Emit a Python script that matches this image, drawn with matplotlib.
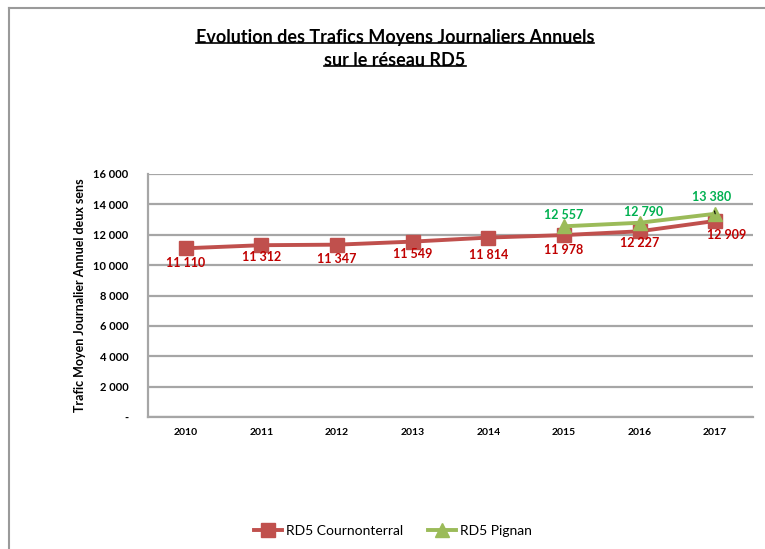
import matplotlib
matplotlib.use("Agg")
import matplotlib.pyplot as plt
from matplotlib.lines import Line2D

plt.rcParams['font.family'] = ['Lato', 'DejaVu Sans']

years = ['2010', '2011', '2012', '2013', '2014', '2015', '2016', '2017']
cournonterral = [11110, 11312, 11347, 11549, 11814, 11978, 12227, 12909]
pignan_years = ['2015', '2016', '2017']
pignan = [12557, 12790, 13380]

yticks = [0, 2000, 4000, 6000, 8000, 10000, 12000, 14000, 16000]
ytick_labels = ['-', '2 000', '4 000', '6 000', '8 000', '10 000', '12 000', '14 000', '16 000']

red = '#C0504D'
green = '#9BBB59'
red_txt = '#C00000'
green_txt = '#00B050'
grid_c = '#A6A6A6'

fig = plt.figure(figsize=(7.65, 5.49), dpi=100)
fig.patch.set_facecolor('white')
fig.patch.set_linewidth(0)

# outer frame of the chart area (top and left edges)
fx, fy = 8.5 / 765, 1 - 7.5 / 549
fig.add_artist(Line2D([fx, 1.0], [fy, fy], transform=fig.transFigure,
                      color='#9A9A9A', linewidth=1.5))
fig.add_artist(Line2D([fx, fx], [0.0, fy], transform=fig.transFigure,
                      color='#9A9A9A', linewidth=1.5))

ax = fig.add_axes([148 / 765, 1 - 417 / 549, (753 - 148) / 765, (417 - 174) / 549])

x_all = list(range(len(years)))
x_pig = [years.index(y) for y in pignan_years]

ax.plot(x_all, cournonterral, color=red, linewidth=2.8, marker='s', markersize=9.5,
        markeredgecolor=red, zorder=3, label='RD5 Cournonterral')
ax.plot(x_pig, pignan, color=green, linewidth=2.8, marker='^', markersize=9.5,
        markeredgecolor=green, zorder=4, label='RD5 Pignan')

ax.set_xlim(-0.5, len(years) - 0.5)
ax.set_ylim(0, 16000)
ax.set_xticks(x_all)
ax.set_xticklabels(years, fontsize=7.5, fontweight='bold')
ax.set_yticks(yticks)
ax.set_yticklabels(ytick_labels, fontsize=8, fontweight='bold')
ax.tick_params(axis='y', length=0, pad=14)
ax.tick_params(axis='x', length=0, pad=8)
ax.yaxis.grid(True, color=grid_c, linewidth=1.6)
ax.set_axisbelow(True)
for s in ['top', 'right']:
    ax.spines[s].set_visible(False)
for s in ['left', 'bottom']:
    ax.spines[s].set_color(grid_c)
    ax.spines[s].set_linewidth(1.6)

ax.set_ylabel('Trafic Moyen Journalier Annuel deux sens', fontsize=9,
              fontweight='bold', labelpad=5)


def fmt(v):
    return f'{v:,}'.replace(',', ' ')


red_offsets = [(0, -15), (0, -12), (0, -14), (0, -12), (0, -17), (0, -15), (0, -12), (11, -14)]
for xi, v, off in zip(x_all, cournonterral, red_offsets):
    ax.annotate(fmt(v), (xi, v), xytext=off, textcoords='offset pixels',
                ha='center', va='center', fontsize=9, fontweight='bold',
                color=red_txt, zorder=6)

green_offsets = [(0, 11), (4, 11), (-4, 17)]
for xi, v, off in zip(x_pig, pignan, green_offsets):
    arrow = None
    if off[1] > 15:
        arrow = dict(arrowstyle='-', color='black', linewidth=0.8, shrinkA=4, shrinkB=3)
    ax.annotate(fmt(v), (xi, v), xytext=off, textcoords='offset pixels',
                ha='center', va='center', fontsize=9, fontweight='bold',
                color=green_txt, zorder=6, arrowprops=arrow)

# title, underlined
t1 = fig.text(395 / 765, 1 - 37 / 549, 'Evolution des Trafics Moyens Journaliers Annuels',
              ha='center', va='center', fontsize=13, fontweight='bold')
t2 = fig.text(395 / 765, 1 - 60 / 549, 'sur le réseau RD5',
              ha='center', va='center', fontsize=13, fontweight='bold')
fig.canvas.draw()
r = fig.canvas.get_renderer()
for t in (t1, t2):
    bb = t.get_window_extent(renderer=r).transformed(fig.transFigure.inverted())
    yline = bb.y0 + 0.004
    fig.add_artist(Line2D([bb.x0, bb.x1], [yline, yline], transform=fig.transFigure,
                          color='black', linewidth=1.2))

handles, labels = ax.get_legend_handles_labels()
fig.legend(handles, labels, loc='center', bbox_to_anchor=(393 / 765, 1 - 531 / 549),
           ncol=2, frameon=False, fontsize=10, handlelength=2.0, columnspacing=1.8,
           handletextpad=0.3)

fig.savefig('out.png', dpi=100, facecolor='white')
